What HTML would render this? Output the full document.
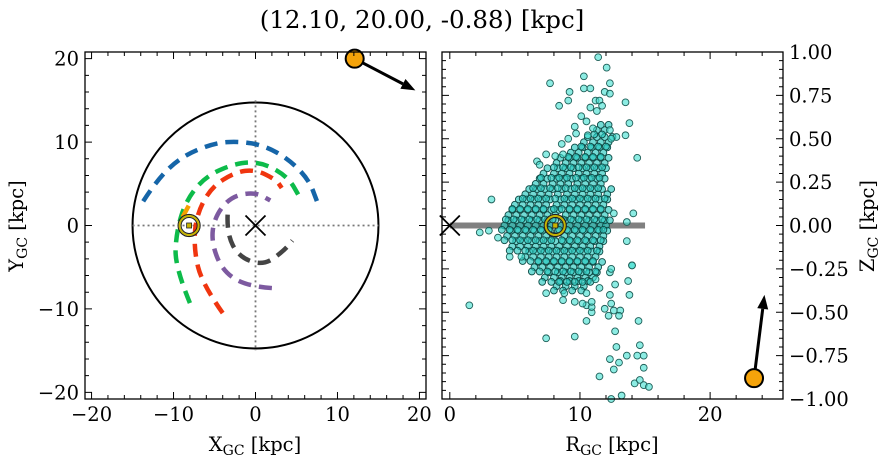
<!DOCTYPE html>
<html><head><meta charset="utf-8"><style>
html,body{margin:0;padding:0;background:#fff;}
svg{display:block;font-family:"DejaVu Serif","Liberation Serif",serif;}
</style></head><body>
<svg id="fig" width="887" height="464" viewBox="0 0 887 464" xmlns="http://www.w3.org/2000/svg">
<text x="422" y="28" font-size="24.5" text-anchor="middle">(12.10, 20.00, -0.88) [kpc]</text>
<g id="left"></g>
<g id="right"></g>
</svg>
<script>
const NS='http://www.w3.org/2000/svg';
// ---- data ----
const objXYZ=[12.10,20.00,-0.88];
const objVelXY=[7.4,-3.8];
const objVelRZ=[0.8,0.48];
const sunX=-8.1;
const armBlueX=[-13.7,-12,-9,-5,-2,1,4,6.5,7.5];
const armBlueY=[2.9,5.5,8.3,9.9,10.1,9.6,8,5.5,2.9];
const armGreenX=[-8,-9.8,-9.7,-8.5,-6,-2,1,4,5.5];
const armGreenY=[-9.3,-5,-1,3,6,7.6,7.5,5.8,3.2];
const armRedX=[-4,-6.5,-7.5,-7.3,-5.5,-2.5,0,2.5,3.2];
const armRedY=[-10.5,-7,-3,1,4.5,6.4,6.7,5.5,4.5];
const armPurpleX=[2,-1,-4,-5.4,-5,-3,0,1.8];
const armPurpleY=[-7.5,-7.3,-5.5,-2,1,3.5,4,3];
const armGrayX=[-3.4,-3.5,-2,1,3.5,4.5];
const armGrayY=[1.3,-1,-3.8,-4.8,-3,-1.8];
const armOrangeX=[-8.9,-7.8];
const armOrangeY=[1,3];
const starsR=[11.4,12.05,7.7,10.3,10.3,10.8,9.2,9.1,8.4,11.9,12.3,12.3,11.2,11.5,10.8,11.3,11.7,13.5,13.8,10.1,10.5,9.6,11,8.6,9.1,9.7,10.6,12.3,12.8,13.5,12.4,14.4,6.7,6.9,7.4,8.1,8.7,3.2,12.6,14.1,13.6,2.3,3.0,3.7,1.5,4.6,5.5,13.6,14.0,7.4,8.7,7.4,9.6,10.5,10.9,10.5,10.9,11.5,12.3,12.4,11.9,12.2,12.6,13.1,13.0,13.8,13.7,14.0,14.5,12.7,12.8,12.3,12.6,13.0,11.5,13.6,14.6,14.4,14.9,14.9,14.2,14.6,14.9,15.3,12.4,13.2,12.3,12.4,12.7,10.5,10.2,11.2,10.9,9.6,8.8];
const starsZ=[0.97,0.91,0.82,0.86,0.79,0.79,0.77,0.72,0.69,0.77,0.76,0.82,0.72,0.72,0.68,0.66,0.69,0.71,0.59,0.63,0.6,0.57,0.56,0.47,0.5,0.53,0.52,0.55,0.51,0.52,0.5,0.39,0.37,0.35,0.41,0.4,0.41,0.15,0.07,0.07,0.02,-0.04,-0.03,-0.07,-0.46,-0.18,-0.18,-0.09,-0.23,-0.39,-0.43,-0.65,-0.64,-0.46,-0.5,-0.55,-0.47,-0.36,-0.4,-0.45,-0.48,-0.52,-0.49,-0.49,-0.52,-0.4,-0.32,-0.23,-0.55,-0.61,-0.7,-0.77,-0.83,-0.79,-0.87,-0.75,-0.69,-0.75,-0.75,-0.82,-0.91,-0.89,-0.92,-0.93,-1.0,-0.98,-0.27,-0.25,-0.34,-0.39,-0.45,-0.31,-0.44,-0.44,-0.39];
const coreZ=[0,0.06,-0.06,0.12,-0.12,0.18,-0.18,0.24,-0.24,0.30,-0.30,0.36,-0.35,0.42,0.48,0.55];
const coreR=[
[4.2,4.8,5.4,6.0,6.6,7.2,7.8,8.6,9.2,9.8,10.4,11.0,11.6,12.0],
[4.5,5.1,5.7,6.3,6.9,7.5,8.1,8.9,9.5,10.1,10.7,11.3,11.9],
[4.4,5.0,5.6,6.2,6.8,7.4,8.0,8.8,9.4,10.0,10.6,11.2,11.8],
[5.0,5.6,6.2,6.8,7.4,8.2,8.8,9.4,10.0,10.6,11.2,11.8],
[4.8,5.4,6.0,6.6,7.2,7.8,8.4,9.0,9.6,10.2,10.8,11.5],
[5.8,6.4,7.0,7.6,8.3,9.0,9.6,10.2,10.8,11.4,12.1],
[5.8,6.4,7.0,7.6,8.2,8.8,9.4,10.0,10.6,11.2],
[6.6,7.2,7.9,8.5,9.1,9.8,10.4,11.0,11.6],
[6.5,7.1,7.7,8.3,8.9,9.5,10.1,10.7,11.4],
[7.2,8.0,8.6,9.2,9.9,10.5,11.1,11.7],
[7.3,8.0,8.6,9.2,9.8,10.4,11.0],
[8.2,8.9,9.5,10.1,10.7,11.3,11.9],
[8.2,8.9,9.6,10.3],
[9.3,9.9,10.6,11.2,11.8],
[10.3,11.0,11.6,12.2],
[11.3,11.9]];
const xTicksL=[-20,-10,0,10,20];
const yTicksL=[20,10,0,-10,-20];
const xTicksR=[0,10,20];
const yTicksR=[1.00,0.75,0.50,0.25,0.00,-0.25,-0.50,-0.75,-1.00];

// ---- helpers ----
function mk(tag,attrs,parent){const e=document.createElementNS(NS,tag);for(const k in attrs)e.setAttribute(k,attrs[k]);parent.appendChild(e);return e;}
function minus(v,d){const s=d?Math.abs(v).toFixed(d):String(Math.abs(v));return (v<0?'\u2212':'')+s;}

const L={x0:85,x1:426,y0:52,y1:399,xmin:-20.8,xmax:20.8,ymin:-20.8,ymax:20.8};
const lx=v=>L.x0+(v-L.xmin)/(L.xmax-L.xmin)*(L.x1-L.x0);
const ly=v=>L.y1-(v-L.ymin)/(L.ymax-L.ymin)*(L.y1-L.y0);
const R={x0:442,x1:783,y0:52,y1:399,xmin:-0.6,xmax:25.6,ymin:-1.0,ymax:1.0};
const rx=v=>R.x0+(v-R.xmin)/(R.xmax-R.xmin)*(R.x1-R.x0);
const ry=v=>R.y1-(v-R.ymin)/(R.ymax-R.ymin)*(R.y1-R.y0);

const gl=document.getElementById('left');
const gr=document.getElementById('right');

// ---------- left panel ----------
let e;
e=mk('circle',{cx:lx(0),cy:ly(0),r:(lx(15)-lx(0)),fill:'none',stroke:'#000','stroke-width':2},gl);


e=mk('line',{x1:lx(-15),y1:ly(0),x2:lx(15),y2:ly(0),stroke:'#777','stroke-width':1.8,'stroke-dasharray':'2,3'},gl);


e=mk('line',{x1:lx(0),y1:ly(15),x2:lx(0),y2:ly(-15),stroke:'#777','stroke-width':1.8,'stroke-dasharray':'2,3'},gl);


const arms=[[armBlueX,armBlueY,'#1565a8','arm-blue'],[armGreenX,armGreenY,'#0dbb4a','arm-green'],[armRedX,armRedY,'#f0350f','arm-red'],[armPurpleX,armPurpleY,'#7d5aa0','arm-purple'],[armGrayX,armGrayY,'#444','arm-gray'],[armOrangeX,armOrangeY,'#f5a000','arm-orange']];
arms.forEach(a=>{
  const px=a[0].map(lx),py=a[1].map(ly);
  let d='M'+px[0]+','+py[0];
  for(let i=1;i<px.length;i++){
    if(i<px.length-1){const mx=(px[i]+px[i+1])/2,my=(py[i]+py[i+1])/2;d+=' Q'+px[i]+','+py[i]+' '+mx+','+my;}
    else d+=' L'+px[i]+','+py[i];
  }
  const p=mk('path',{d:d,fill:'none',stroke:a[2],'stroke-width':4.5,'stroke-dasharray':'13,8'},gl);
  
  
});
function sun(g,cx,cy,name){
  const s=mk('g',{},g);
  
  
  mk('circle',{cx:cx,cy:cy,r:11,fill:'none',stroke:'#222','stroke-width':1.2},s);
  mk('circle',{cx:cx,cy:cy,r:9.5,fill:'none',stroke:'#c8b400','stroke-width':2},s);
  mk('circle',{cx:cx,cy:cy,r:8,fill:'none',stroke:'#222','stroke-width':1},s);
  mk('rect',{x:cx-2.5,y:cy-2.5,width:5,height:5,fill:'#c8b400',stroke:'#222','stroke-width':0.8},s);
}
function cross(g,cx,cy,name){
  const c=mk('path',{d:`M${cx-10},${cy-10}L${cx+10},${cy+10}M${cx-10},${cy+10}L${cx+10},${cy-10}`,stroke:'#000','stroke-width':1.8},g);
  
  
}
sun(gl,lx(sunX),ly(0),'sun-marker-xy');
cross(gl,lx(0),ly(0),'galactic-center-xy');
function arrow(g,x1,y1,x2,y2,name){
  const a=mk('g',{},g);
  
  
  const ang=Math.atan2(y2-y1,x2-x1),hl=14,hw=5.5;
  const bx=x2-hl*Math.cos(ang),by=y2-hl*Math.sin(ang);
  mk('line',{x1:x1,y1:y1,x2:bx,y2:by,stroke:'#000','stroke-width':3},a);
  mk('polygon',{points:`${x2},${y2} ${bx+hw*Math.sin(ang)},${by-hw*Math.cos(ang)} ${bx-hw*Math.sin(ang)},${by+hw*Math.cos(ang)}`,fill:'#000'},a);
}
arrow(gl,lx(objXYZ[0]),ly(objXYZ[1]),lx(objXYZ[0]+objVelXY[0]),ly(objXYZ[1]+objVelXY[1]),'velocity-arrow-xy');
e=mk('circle',{cx:lx(objXYZ[0]),cy:ly(objXYZ[1]),r:9,fill:'#f5a30a',stroke:'#000','stroke-width':2},gl);



// ---------- right panel ----------
e=mk('line',{x1:rx(0),y1:ry(0),x2:rx(15),y2:ry(0),stroke:'#808080','stroke-width':6},gr);


const sg=mk('g',{},gr);


function star(r,z,core){
  const c=mk('circle',{cx:rx(r),cy:ry(z),r:3.4,fill:core?'rgba(40,200,190,0.65)':'rgba(64,224,208,0.6)',stroke:core?'#0e4a45':'#1f5f58','stroke-width':0.9},sg);
  
  
}
coreZ.forEach((z,i)=>coreR[i].forEach(r=>star(r,z,true)));
coreZ.forEach((z,i)=>coreR[i].forEach(r=>star(r+0.3,z+0.03,true)));
coreZ.forEach((z,i)=>coreR[i].forEach(r=>star(r-0.2,z-0.025,true)));
starsR.forEach((r,i)=>star(r,starsZ[i],false));
cross(gr,rx(0),ry(0),'galactic-center-rz');
sun(gr,rx(-sunX),ry(0),'sun-marker-rz');
const rObj=Math.hypot(objXYZ[0],objXYZ[1]);
arrow(gr,rx(rObj),ry(objXYZ[2]),rx(rObj+objVelRZ[0]),ry(objXYZ[2]+objVelRZ[1]),'velocity-arrow-rz');
e=mk('circle',{cx:rx(rObj),cy:ry(objXYZ[2]),r:9,fill:'#f5a30a',stroke:'#000','stroke-width':2},gr);



// ---------- axes frames & ticks ----------
function frame(g,A,name){
  const f=mk('rect',{x:A.x0,y:A.y0,width:A.x1-A.x0,height:A.y1-A.y0,fill:'none',stroke:'#000','stroke-width':1.3},g);
  
  
}
frame(gl,L,'xy-axes-frame');
frame(gr,R,'rz-axes-frame');
function ticks(g,A,sx,sy,xmaj,xmin,ymaj,ymin){
  let d='';
  const lo=(a,b)=>Math.ceil(a/b-1e-9)*b;
  for(let v=lo(A.xmin,xmin);v<=A.xmax+1e-9;v+=xmin){const X=sx(v),isM=Math.abs(v/xmaj-Math.round(v/xmaj))<1e-6,l=isM?7:4;d+=`M${X},${A.y1}v${-l}M${X},${A.y0}v${l}`;}
  for(let v=lo(A.ymin,ymin);v<=A.ymax+1e-9;v+=ymin){const Y=sy(v),isM=Math.abs(v/ymaj-Math.round(v/ymaj))<1e-6,l=isM?7:4;d+=`M${A.x0},${Y}h${l}M${A.x1},${Y}h${-l}`;}
  const t=mk('path',{d:d,stroke:'#000','stroke-width':1,fill:'none'},g);
  
  
}
ticks(gl,L,lx,ly,10,2,10,2);
ticks(gr,R,rx,ry,10,2,0.25,0.05);
function label(g,x,y,txt,anchor,name){
  const t=mk('text',{x:x,y:y,'font-size':19.5,'text-anchor':anchor},g);
  t.textContent=txt;
  
  
  return t;
}
xTicksL.forEach(v=>label(gl,lx(v),421,minus(v),'middle','x-tick-label'));
yTicksL.forEach(v=>label(gl,79,ly(v)+7,minus(v),'end','y-tick-label'));
xTicksR.forEach(v=>label(gr,rx(v),421,minus(v),'middle','r-tick-label'));
yTicksR.forEach(v=>label(gr,789,ry(v)+7,minus(v,2),'start','z-tick-label'));
function axisTitle(g,x,y,main,sub,rot,name){
  const t=mk('text',{x:x,y:y,'font-size':19.5,'text-anchor':'middle'},g);
  if(rot)t.setAttribute('transform',`rotate(-90 ${x} ${y})`);
  
  
  const a=mk('tspan',{},t);a.textContent=main;
  const b=mk('tspan',{'font-size':14,dy:4},t);b.textContent=sub;
  const c=mk('tspan',{dy:-4},t);c.textContent=' [kpc]';
}
axisTitle(gl,255,451,'X','GC',false,'x-axis-title');
axisTitle(gl,23,226,'Y','GC',true,'y-axis-title');
axisTitle(gr,612,451,'R','GC',false,'r-axis-title');
axisTitle(gr,874,226,'Z','GC',true,'z-axis-title');
</script>
</body></html>
